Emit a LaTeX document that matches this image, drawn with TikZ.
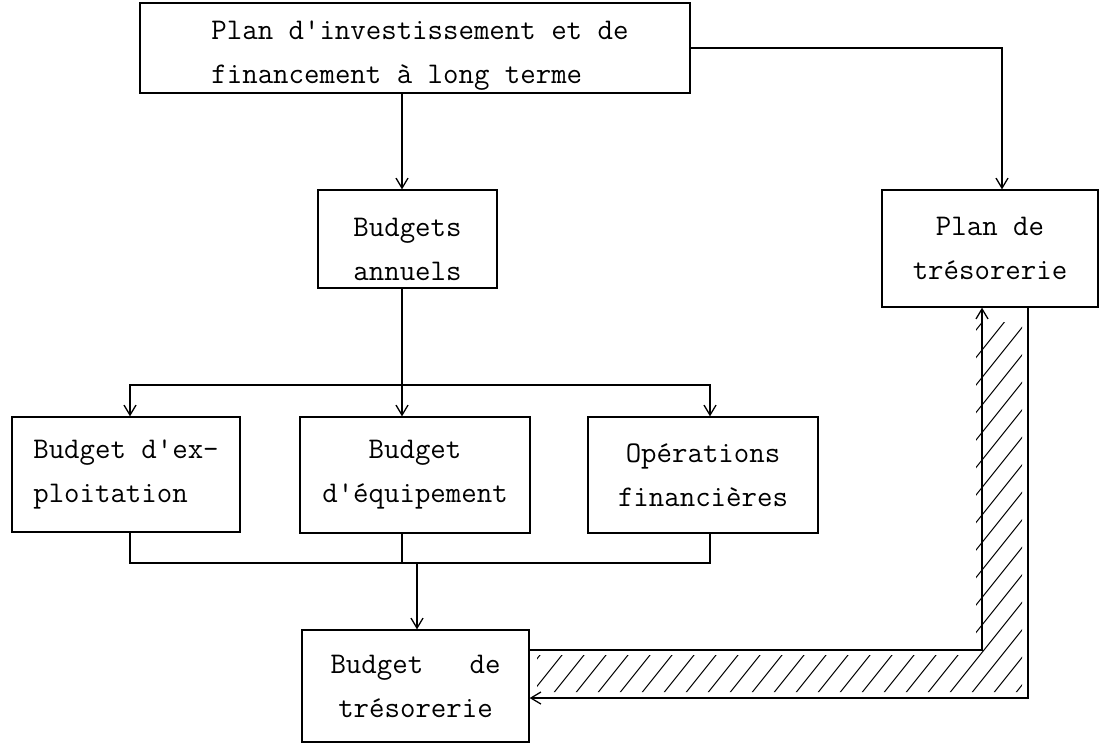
\documentclass[tikz,border=0pt]{standalone}
\usepackage{fontspec}
\usetikzlibrary{arrows.meta}
\newcommand\ap{\textquotesingle}
\begin{document}
\begin{tikzpicture}[x=1pt,y=-1pt,
  box/.style={draw,line width=1.3pt,inner sep=0pt,font=\ttfamily\fontsize{30}{44}\selectfont,align=center},
  conn/.style={line width=1.3pt},
  tip/.style={-{Straight Barb[length=10pt,width=12pt,line width=1.3pt]}},
  hatch/.style={line width=1pt}]
\useasboundingbox[fill=white] (0,0) rectangle (1101,745);

\node[box,align=left,minimum width=550,minimum height=90] (top) at (415,48)
  {\rule{0pt}{33pt}\hspace*{10pt}Plan d\ap investissement et de\\\hspace*{10pt}financement à long terme};
\node[box,minimum width=179,minimum height=98] (annu) at (407.5,239) {\rule{0pt}{40pt}Budgets\\annuels};
\node[box,minimum width=216,minimum height=117] (plan) at (990,248.5) {Plan de\\trésorerie};
\node[box,align=left,minimum width=228,minimum height=115] (expl) at (126,474.5) {Budget d\ap ex-\\ploitation\hphantom{xx}};
\node[box,minimum width=230,minimum height=116] (equ) at (415,475) {Budget\\d\ap équipement};
\node[box,minimum width=230,minimum height=116] (ops) at (703,475) {Opérations\\financières};
\node[box,minimum width=227,minimum height=112] (bdt) at (415.5,686) {Budget~~~de\\trésorerie};

\coordinate (j1) at (402,385);
\coordinate (j2) at (417,563);

\draw[conn,tip] (top.south -| j1) -- (annu.north -| j1);
\draw[conn,tip] (top.east) -| ([xshift=12pt]plan.north);
\draw[conn] (annu.south -| j1) -- (j1);
\draw[conn,tip] (j1) -| ([xshift=4pt]expl.north);
\draw[conn,tip] (j1) -| ([xshift=7pt]ops.north);
\draw[conn,tip] (j1) -- (equ.north -| j1);
\draw[conn] ([xshift=4pt]expl.south) |- (j2);
\draw[conn] ([xshift=7pt]ops.south) |- (j2);
\draw[conn] (equ.south -| j1) -- (j1 |- j2);
\draw[conn,tip] (j2) -- (bdt.north -| j2);

% hatched double arrow
\draw[conn,tip] ([xshift=38pt]plan.south) |- ([yshift=-12pt]bdt.east);
\draw[conn,tip] ([yshift=36pt]bdt.east) -| ([xshift=-8pt]plan.south);
\begin{scope}
  \clip (537,655) -- (976,655) -- (976,322) -- (1022,322) -- (1022,692) -- (537,692) -- cycle;
  \foreach \c in {180,202,...,1060}
    \draw[hatch] (\c,720) -- (\c+360,270);
\end{scope}
\end{tikzpicture}
\end{document}
